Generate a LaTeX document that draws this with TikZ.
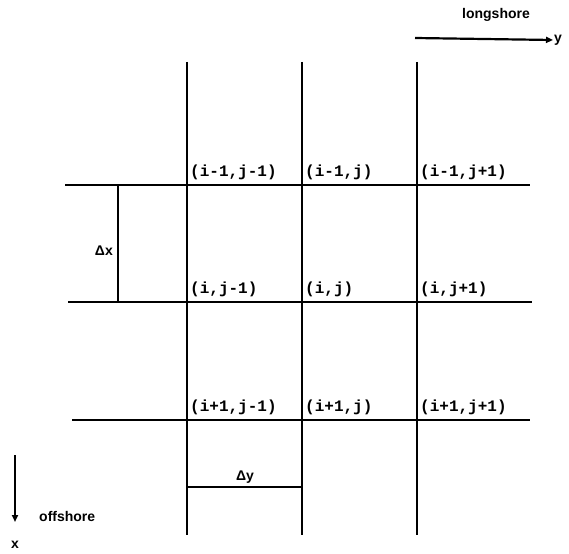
\documentclass[tikz,border=0pt]{standalone}
\usepackage{fontspec}
\setmainfont{Liberation Sans}
\setmonofont{Liberation Mono}
\usetikzlibrary{arrows.meta,positioning}

\begin{document}
\begin{tikzpicture}[
  x=1pt, y=-1pt,
  gridline/.style={line width=2.6pt, black},
  dimline/.style={line width=2.2pt, black},
  cell/.style={font=\fontsize{16}{18}\selectfont\ttfamily\bfseries, anchor=south west, inner sep=1pt},
  lab/.style={font=\fontsize{14}{16}\selectfont\bfseries, inner sep=1pt},
  axis/.style={-{Triangle[length=7pt, width=6pt]}, line width=2.2pt}]
\useasboundingbox (0,0) rectangle (569,553);
% grid lines, columns
\foreach \c/\xx in {a/187, b/302, c/417} {
  \coordinate (\c top) at (\xx,62);
  \coordinate (\c bot) at (\xx,535);
  \draw[gridline] (\c top) -- (\c bot);
}
% grid lines, rows
\coordinate (r1w) at (65,185);  \coordinate (r1e) at (530,185);
\coordinate (r2w) at (68,302);  \coordinate (r2e) at (532,302);
\coordinate (r3w) at (72,420);  \coordinate (r3e) at (530,420);
\draw[gridline] (r1w) -- (r1e);
\draw[gridline] (r2w) -- (r2e);
\draw[gridline] (r3w) -- (r3e);
% cell labels
\node[cell] (n11) at (189,181) {(i-1,j-1)};
\node[cell] (n12) at (304,181) {(i-1,j)};
\node[cell] (n13) at (419,181) {(i-1,j+1)};
\node[cell] (n21) at (189,298) {(i,j-1)};
\node[cell] (n22) at (304,298) {(i,j)};
\node[cell] (n23) at (419,298) {(i,j+1)};
\node[cell] (n31) at (189,416) {(i+1,j-1)};
\node[cell] (n32) at (304,416) {(i+1,j)};
\node[cell] (n33) at (419,416) {(i+1,j+1)};
% spacing
\coordinate (dxt) at (118,185);
\coordinate (dxb) at (118,302);
\draw[dimline] (dxt) -- (dxb);
\node[lab, left=4pt] (dx) at (118,251) {Δx};
\coordinate (dyl) at (187,487);
\coordinate (dyr) at (302,487);
\draw[dimline] (dyl) -- (dyr);
\node[lab, above=2pt] (dy) at (245,487) {Δy};
% axes
\node[lab] (ls) at (496,15) {longshore};
\coordinate (lsw) at (415,38);
\node[lab, anchor=west] (yax) at (553,40) {y};
\draw[axis] (lsw) -- (yax.west);
\node[lab] (xax) at (15,545) {x};
\coordinate (osn) at (15,455);
\coordinate (oss) at (15,522);
\draw[axis] (osn) -- (oss);
\node[lab, anchor=west] (os) at (38,516) {offshore};
\end{tikzpicture}
\end{document}
